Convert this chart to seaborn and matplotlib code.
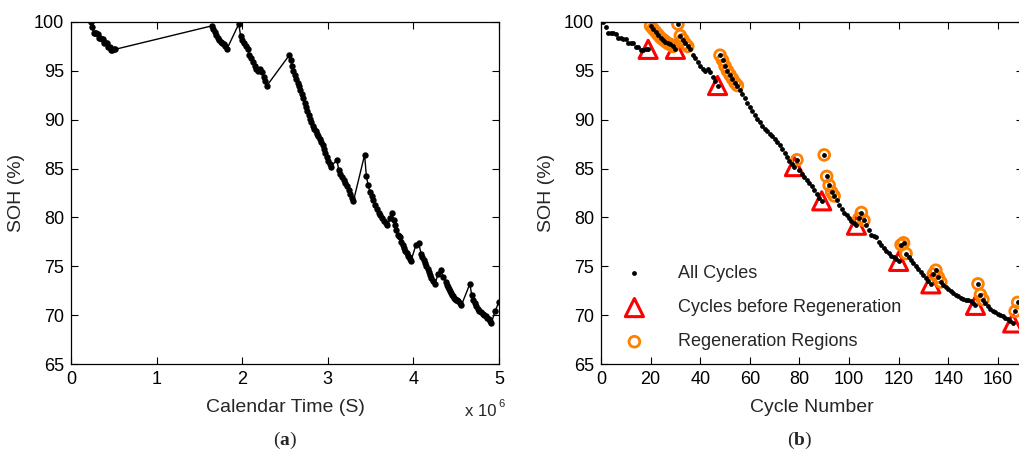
import numpy as np
import pandas as pd
import matplotlib
matplotlib.use("Agg")
import matplotlib.pyplot as plt
import seaborn as sns

# ---------------- data ----------------
cycles = list(range(1, 169))
soh = [100.0, 99.5, 98.9, 98.9, 98.9, 98.8, 98.4, 98.4, 98.3, 98.3,
       97.9, 97.9, 97.8, 97.4, 97.4, 97.1, 97.1, 97.2, 97.2, 99.6,
       99.3, 99.0, 98.7, 98.4, 98.2, 98.0, 97.8, 97.7, 97.5, 97.2,
       99.8, 98.6, 98.2, 97.8, 97.5, 97.2, 96.6, 96.3, 95.9, 95.5,
       95.2, 95.0, 95.2, 94.9, 94.4, 94.0, 93.5, 96.6, 96.1, 95.5,
       95.0, 94.6, 94.2, 93.8, 93.5, 93.0, 92.6, 92.2, 91.7, 91.3,
       90.9, 90.5, 90.1, 89.8, 89.4, 89.1, 88.8, 88.5, 88.3, 88.0,
       87.7, 87.4, 87.0, 86.6, 86.2, 85.8, 85.5, 85.2, 85.9, 84.9,
       84.4, 84.1, 83.8, 83.5, 83.2, 82.8, 82.4, 82.0, 81.7, 86.4,
       84.2, 83.3, 82.6, 82.2, 81.8, 81.3, 80.9, 80.5, 80.2, 79.9,
       79.6, 79.4, 79.2, 79.9, 80.5, 79.7, 79.2, 78.7, 78.2, 78.1,
       78.0, 77.5, 77.2, 76.9, 76.6, 76.4, 76.1, 75.9, 75.7, 75.5,
       77.2, 77.4, 76.3, 75.9, 75.6, 75.3, 75.0, 74.7, 74.4, 74.1,
       73.8, 73.5, 73.2, 74.2, 74.6, 73.9, 73.4, 73.1, 72.9, 72.7,
       72.5, 72.3, 72.1, 72.0, 71.8, 71.7, 71.6, 71.5, 71.4, 71.2,
       71.0, 73.2, 72.1, 71.6, 71.2, 70.9, 70.6, 70.4, 70.3, 70.1,
       70.0, 69.9, 69.7, 69.6, 69.4, 69.2, 70.4, 71.3]

# calendar time of each cycle (x 1e6 s)
time_e6 = [0.234, 0.250, 0.265, 0.281, 0.296, 0.312, 0.327, 0.343, 0.358, 0.374,
           0.390, 0.405, 0.421, 0.436, 0.452, 0.467, 0.483, 0.498, 0.514,
           1.643, 1.661, 1.678, 1.696, 1.714, 1.732, 1.749, 1.767, 1.785, 1.802, 1.820,
           1.960, 1.981, 2.001, 2.022, 2.042, 2.063, 2.084, 2.104, 2.125, 2.145,
           2.166, 2.187, 2.207, 2.228, 2.249, 2.269, 2.290,
           2.550, 2.566, 2.582, 2.599, 2.615, 2.631, 2.647, 2.663, 2.680, 2.696,
           2.712, 2.728, 2.744, 2.761, 2.777, 2.793, 2.809, 2.825, 2.842, 2.858,
           2.874, 2.890, 2.906, 2.923, 2.939, 2.955, 2.971, 2.987, 3.004, 3.020, 3.036,
           3.107, 3.126, 3.146, 3.165, 3.184, 3.204, 3.223, 3.242, 3.261, 3.281, 3.300,
           3.430, 3.451, 3.471, 3.492, 3.512, 3.533, 3.553, 3.574, 3.594, 3.615,
           3.635, 3.656, 3.676, 3.697,
           3.730, 3.750, 3.770, 3.785, 3.800, 3.815, 3.830, 3.845, 3.860, 3.875,
           3.890, 3.905, 3.920, 3.935, 3.950, 3.960, 3.970,
           4.030, 4.060, 4.090, 4.105, 4.120, 4.135, 4.150, 4.165, 4.180, 4.195,
           4.210, 4.230, 4.250,
           4.290, 4.320, 4.350, 4.380, 4.392, 4.404, 4.416, 4.428, 4.440, 4.452,
           4.464, 4.476, 4.488, 4.500, 4.512, 4.524, 4.540, 4.560,
           4.660, 4.680, 4.700, 4.718, 4.736, 4.754, 4.772, 4.790, 4.808, 4.826,
           4.844, 4.862, 4.880, 4.895, 4.910, 4.955, 4.995]

before_regen = [19, 30, 47, 78, 89, 103, 120, 133, 151, 166]
regen_regions = [20, 21, 22, 23, 24, 25, 26, 27, 28, 29,
                 31, 32, 33, 34, 35,
                 48, 49, 50, 51, 52, 53, 54, 55,
                 79,
                 90, 91, 92, 93, 94,
                 104, 105, 106,
                 121, 122, 123,
                 134, 135, 136, 137,
                 152, 153, 154,
                 167, 168]

x_ticks_a = [0, 1, 2, 3, 4, 5]
x_ticks_b = [0, 20, 40, 60, 80, 100, 120, 140, 160]
y_ticks = [65, 70, 75, 80, 85, 90, 95, 100]

df = pd.DataFrame({"cycle": cycles, "soh": soh, "time": np.array(time_e6) * 1e6})
df_tri = df[df["cycle"].isin(before_regen)]
df_circ = df[df["cycle"].isin(regen_regions)]

# ---------------- style ----------------
sns.set_style("ticks")
plt.rcParams["font.family"] = ["Liberation Sans", "DejaVu Sans"]
plt.rcParams["mathtext.fontset"] = "custom"
plt.rcParams["mathtext.rm"] = "Liberation Serif"
plt.rcParams["mathtext.bf"] = "Liberation Serif:bold"
plt.rcParams["mathtext.sf"] = "Liberation Sans"
plt.rcParams["axes.edgecolor"] = "black"
plt.rcParams["axes.linewidth"] = 0.9

W, H = 1019, 461
fig = plt.figure(figsize=(W / 100, H / 100), dpi=100)

def px_axes(x0, x1, ytop, ybot):
    return fig.add_axes([x0 / W, (H - ybot) / H, (x1 - x0) / W, (ybot - ytop) / H])

ax1 = px_axes(71, 499, 22, 364)
ax2 = px_axes(601, 1022.6, 22, 364)

# ---- panel (a) ----
sns.lineplot(data=df, x="time", y="soh", ax=ax1, color="black", linewidth=1.0,
             marker="o", markersize=4.6, markeredgewidth=0, sort=False,
             estimator=None, legend=False)
ax1.set_xlim(0, 5e6)
ax1.set_ylim(65, 100)
ax1.set_xticks([v * 1e6 for v in x_ticks_a])
ax1.set_xticklabels([str(v) for v in x_ticks_a])
ax1.set_xlabel("Calendar Time (S)", fontsize=14, labelpad=8)
ax1.set_ylabel("SOH (%)", fontsize=14, labelpad=6)
ax1.text(0.995, -0.118, "x 10", transform=ax1.transAxes, ha="right", va="top", fontsize=12)
ax1.text(0.998, -0.103, "6", transform=ax1.transAxes, ha="left", va="top", fontsize=8)

# ---- panel (b) ----
sns.scatterplot(data=df, x="cycle", y="soh", ax=ax2, color="black", marker="o",
                s=12, linewidth=0, label="All Cycles", zorder=3)
sns.scatterplot(data=df_tri, x="cycle", y="soh", ax=ax2, marker="^", s=170,
                facecolor="none", edgecolor="#ff0000", linewidth=2.2,
                label="Cycles before Regeneration", zorder=2)
sns.scatterplot(data=df_circ, x="cycle", y="soh", ax=ax2, marker="o", s=60,
                facecolor="none", edgecolor="#ff7f00", linewidth=2.0,
                label="Regeneration Regions", zorder=2)
ax2.set_xlim(0, 170)
ax2.set_ylim(65, 100)
ax2.set_xticks(x_ticks_b)
ax2.set_xlabel("Cycle Number", fontsize=14, labelpad=8)
ax2.set_ylabel("SOH (%)", fontsize=14, labelpad=6)
leg = ax2.legend(loc="lower left", bbox_to_anchor=(0.0, 0.0), frameon=False,
                 fontsize=13, labelspacing=0.95, handletextpad=1.3,
                 handlelength=2.2, borderaxespad=0.35)

for ax in (ax1, ax2):
    ax.set_yticks(y_ticks)
    ax.tick_params(direction="in", length=5, width=0.8, top=True, right=True,
                   labelsize=13, colors="black", pad=5)
    for sp in ax.spines.values():
        sp.set_visible(True)
        sp.set_color("black")

fig.text(285 / W, 1 - 440 / H, r"($\mathbf{a}$)", ha="center", va="center",
         fontsize=14, family="Liberation Serif")
fig.text(800 / W, 1 - 440 / H, r"($\mathbf{b}$)", ha="center", va="center",
         fontsize=14, family="Liberation Serif")

fig.savefig("out.png", dpi=100)
